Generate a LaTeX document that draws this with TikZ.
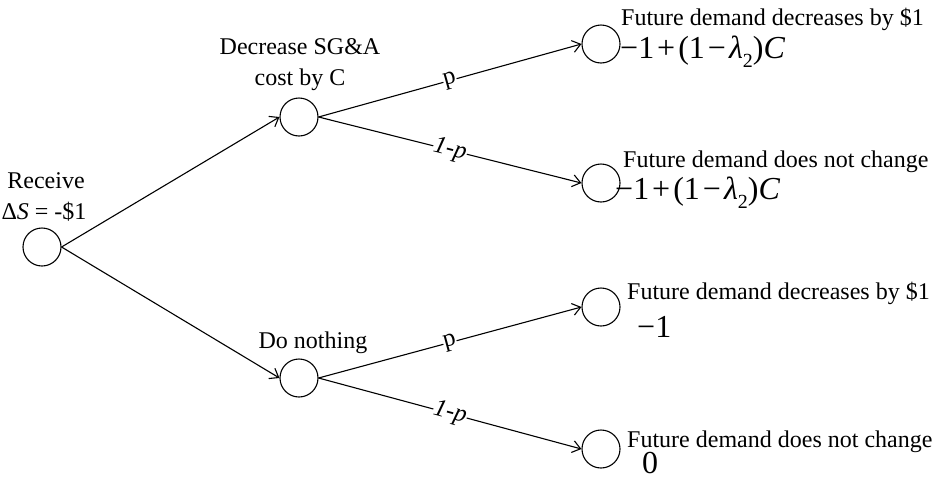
\documentclass[tikz,border=0pt]{standalone}
\usepackage{fontspec}
\setmainfont{Liberation Serif}
\usetikzlibrary{arrows.meta}
\newcommand{\subtwo}{\raisebox{-0.3em}{\fontsize{20}{20}\selectfont 2}}
\newcommand{\payoff}{−1\hspace{3pt}+\hspace{3pt}(1\hspace{3pt}−\hspace{3pt}\textit{λ}\subtwo)\textit{C}}
\begin{document}
\begin{tikzpicture}[x=1pt,y=-1pt,
  every node/.style={font=\fontsize{24}{27}\selectfont},
  chance/.style={circle,draw,line width=1.1pt,minimum size=38pt,inner sep=0pt},
  branch/.style={line width=1.1pt,-{Straight Barb[length=8pt,width=12pt,line width=1.1pt]}},
  prob/.style={fill=white,inner sep=0.5pt,sloped,pos=0.5,font=\fontsize{25}{27}\selectfont},
  txt/.style={anchor=base west,inner sep=0pt},
  ctxt/.style={anchor=base,inner sep=0pt},
  big/.style={font=\fontsize{32}{34}\selectfont}]
\useasboundingbox (0,0) rectangle (935,480);
% chance nodes
\node[chance] (r)  at (42,247) {};
\node[chance] (u)  at (299,117) {};
\node[chance] (d)  at (299,378) {};
\node[chance] (l1) at (601,44) {};
\node[chance] (l2) at (601,183) {};
\node[chance] (l3) at (601,307) {};
\node[chance] (l4) at (601,449) {};
% labels of decision nodes
\node[ctxt] (rl1) at (46,188) {Receive};
\node[ctxt] (rl2) at (44,219) {Δ\textit{S} = -\$1};
\node[ctxt] (ul1) at (300,54) {Decrease SG\&A};
\node[ctxt] (ul2) at (300,85) {cost by C};
\node[ctxt] (dl)  at (313,348) {Do nothing};
% leaf labels
\node[txt] (t1) at (621,25)  {Future demand decreases by \$1};
\node[txt,big] (v1) at (620,58) {\payoff};
\node[txt] (t2) at (623,167) {Future demand does not change};
\node[txt,big] (v2) at (615,199) {\payoff};
\node[txt] (t3) at (627,299) {Future demand decreases by \$1};
\node[txt,big] (v3) at (637,337) {−1};
\node[txt] (t4) at (627,447) {Future demand does not change};
\node[txt,big] (v4) at (642,473) {0};
% branches
\draw[branch] (r.east) -- (u.west);
\draw[branch] (r.east) -- (d.west);
\draw[branch] (u.east) -- node[prob] (p1) {p} (l1.west);
\draw[branch] (u.east) -- node[prob] (q1) {\textit{1-p}} (l2.west);
\draw[branch] (d.east) -- node[prob] (p2) {p} (l3.west);
\draw[branch] (d.east) -- node[prob] (q2) {\textit{1-p}} (l4.west);
\end{tikzpicture}
\end{document}
